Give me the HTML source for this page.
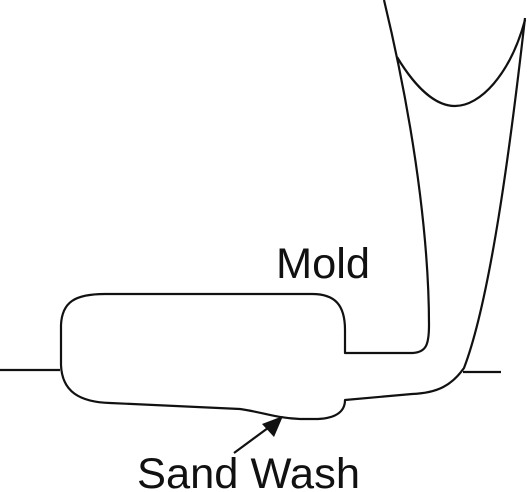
<!DOCTYPE html>
<html><head><meta charset="utf-8"><style>
html,body{margin:0;padding:0;background:#fff;width:527px;height:492px;overflow:hidden}
svg{display:block}
text{font-family:"Liberation Sans",Arial,sans-serif;fill:#111}
</style></head><body>
<svg width="527" height="492" viewBox="0 0 527 492">
<g fill="none" stroke="#111" stroke-width="2.2" stroke-linejoin="round">
<path d="M0 370 L60 370"/>
<path d="M463 372 L501 372"/>
<path d="M413 353 L345 353 L345 330 C345 305 335 294 312 294 L105 294 C75 294 62 302 61 325 L61 365 C62 392 80 402 110 403 L240 409 C262 412 275 418 300 419 L318 419 C338 418 345 410 345 400 L412 394 C438 393 452 385 464 368 C490 300 510 150 525 18"/>
<path d="M413 353 C426 352 429 345 429 325 C429 260 420 150 384 0"/>
<path d="M397 57 C420 95 440 106 455 106 C480 106 510 75 525 20"/>
<path d="M234 453 L272 425"/>
</g>
<polygon points="283,416 262,424 274,437" fill="#111"/>
<text x="276" y="278" font-size="43" textLength="94" lengthAdjust="spacingAndGlyphs">Mold</text>
<text x="137" y="488" font-size="43" textLength="223" lengthAdjust="spacingAndGlyphs">Sand Wash</text>
</svg>
</body></html>
